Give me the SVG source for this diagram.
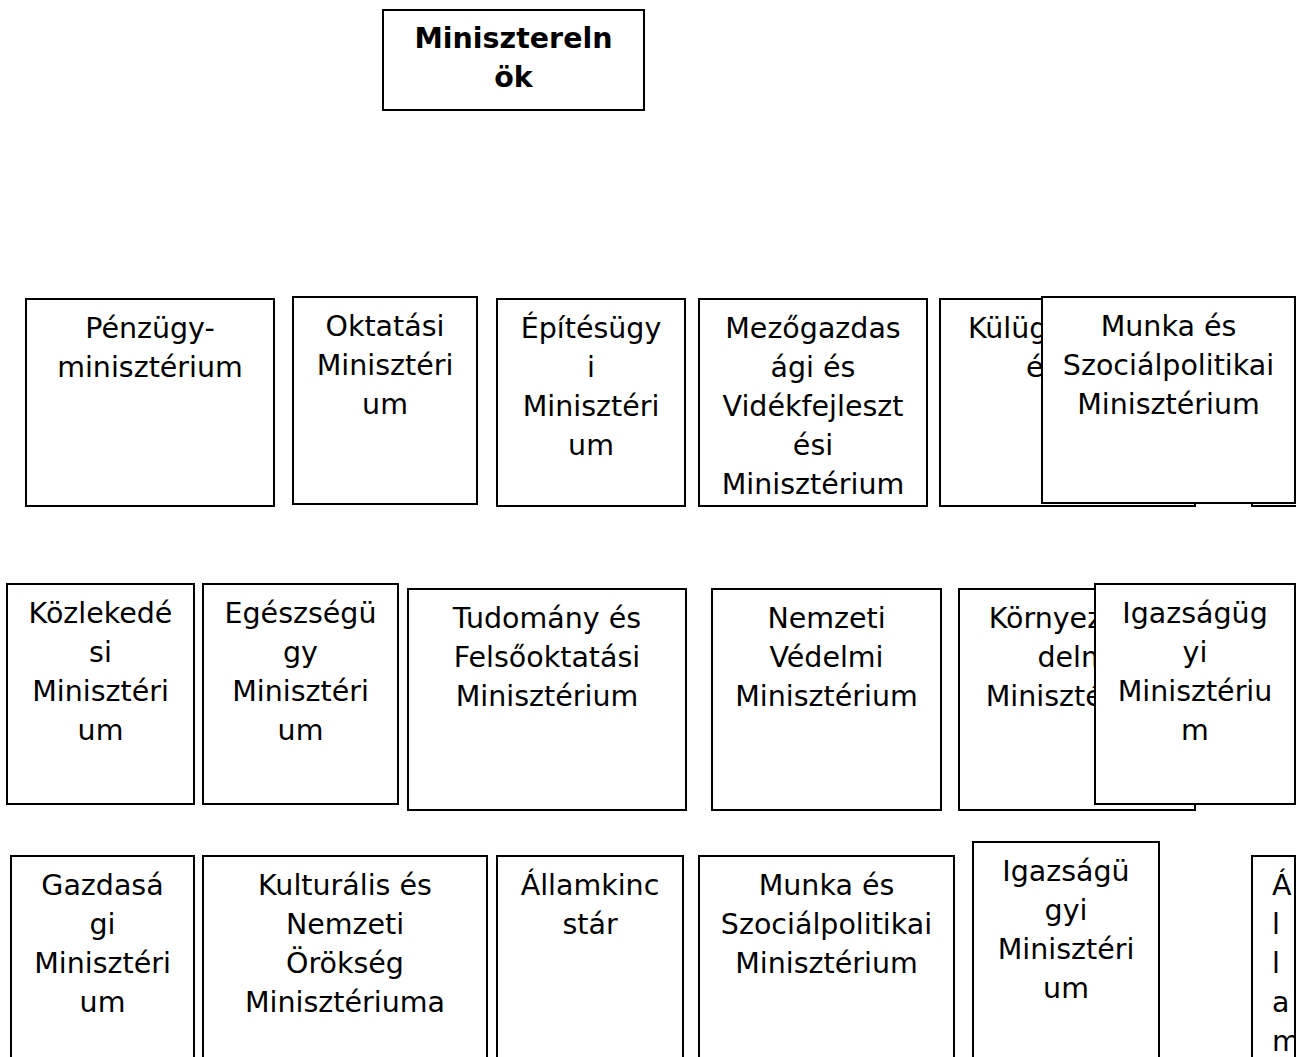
<svg xmlns="http://www.w3.org/2000/svg" width="1296" height="1057" viewBox="0 0 1296 1057">
<style>
  .box { fill: #ffffff; stroke: #000000; stroke-width: 2; }
  .lbl { font-family: "DejaVu Sans", "Liberation Sans", sans-serif; font-size: 28.5px; fill: #000000; text-anchor: middle; }
  .bold { font-weight: bold; }
  .start { text-anchor: start; }
</style>
<defs>
  <clipPath id="clipRight"><rect x="0" y="0" width="1294" height="1057"/></clipPath>
  <clipPath id="clipKulugy"><rect x="941" y="300" width="100" height="205"/></clipPath>
  <clipPath id="clipKornyezet"><rect x="960" y="590" width="134" height="219"/></clipPath>
</defs>
<rect x="0" y="0" width="1296" height="1057" fill="#ffffff"/>
<g id="connectors"></g>

<g id="n-miniszterelnok">
  <rect class="box" x="383" y="10" width="261" height="100"/>
  <text class="lbl bold"><tspan x="513.5" y="48">Minisztereln</tspan><tspan x="513.5" y="87">ök</tspan></text>
</g>

<!-- Row 1 -->
<g id="n-penzugy">
  <rect class="box" x="26" y="299" width="248" height="207"/>
  <text class="lbl"><tspan x="150" y="338">Pénzügy-</tspan><tspan x="150" y="377">minisztérium</tspan></text>
</g>
<g id="n-oktatasi">
  <rect class="box" x="293" y="297" width="184" height="207"/>
  <text class="lbl"><tspan x="385" y="336">Oktatási</tspan><tspan x="385" y="375">Minisztéri</tspan><tspan x="385" y="414">um</tspan></text>
</g>
<g id="n-epitesugyi">
  <rect class="box" x="497" y="299" width="188" height="207"/>
  <text class="lbl"><tspan x="591" y="338">Építésügy</tspan><tspan x="591" y="377">i</tspan><tspan x="591" y="416">Minisztéri</tspan><tspan x="591" y="455">um</tspan></text>
</g>
<g id="n-mezogazdasagi">
  <rect class="box" x="699" y="299" width="228" height="207"/>
  <text class="lbl"><tspan x="813" y="338">Mezőgazdas</tspan><tspan x="813" y="377">ági és</tspan><tspan x="813" y="416">Vidékfejleszt</tspan><tspan x="813" y="455">ési</tspan><tspan x="813" y="494">Minisztérium</tspan></text>
</g>
<g id="n-kulugy">
  <rect class="box" x="940" y="299" width="255" height="207"/>
  <text class="lbl" clip-path="url(#clipKulugy)"><tspan x="1067.5" y="338">Külügyminiszt</tspan><tspan x="1067.5" y="377">érium</tspan></text>
</g>
<g id="n-rejtett">
  <rect class="box" x="1252" y="299" width="60" height="207"/>
</g>
<g id="n-munka-1">
  <rect class="box" x="1042" y="297" width="253" height="206"/>
  <text class="lbl"><tspan x="1168.5" y="336">Munka és</tspan><tspan x="1168.5" y="375">Szociálpolitikai</tspan><tspan x="1168.5" y="414">Minisztérium</tspan></text>
</g>

<!-- Row 2 -->
<g id="n-kozlekedesi">
  <rect class="box" x="7" y="584" width="187" height="220"/>
  <text class="lbl"><tspan x="100.5" y="623">Közlekedé</tspan><tspan x="100.5" y="662">si</tspan><tspan x="100.5" y="701">Minisztéri</tspan><tspan x="100.5" y="740">um</tspan></text>
</g>
<g id="n-egeszsegugy">
  <rect class="box" x="203" y="584" width="195" height="220"/>
  <text class="lbl"><tspan x="300.5" y="623">Egészségü</tspan><tspan x="300.5" y="662">gy</tspan><tspan x="300.5" y="701">Minisztéri</tspan><tspan x="300.5" y="740">um</tspan></text>
</g>
<g id="n-tudomany">
  <rect class="box" x="408" y="589" width="278" height="221"/>
  <text class="lbl"><tspan x="547" y="628">Tudomány és</tspan><tspan x="547" y="667">Felsőoktatási</tspan><tspan x="547" y="706">Minisztérium</tspan></text>
</g>
<g id="n-nemzeti-vedelmi">
  <rect class="box" x="712" y="589" width="229" height="221"/>
  <text class="lbl"><tspan x="826.5" y="628">Nemzeti</tspan><tspan x="826.5" y="667">Védelmi</tspan><tspan x="826.5" y="706">Minisztérium</tspan></text>
</g>
<g id="n-kornyezetvedelmi">
  <rect class="box" x="959" y="589" width="236" height="221"/>
  <text class="lbl" clip-path="url(#clipKornyezet)"><tspan x="1077" y="628">Környezetvé</tspan><tspan x="1077" y="667">delmi</tspan><tspan x="1077" y="706">Minisztérium</tspan></text>
</g>
<g id="n-igazsagugyi-2">
  <rect class="box" x="1095" y="584" width="200" height="220"/>
  <text class="lbl"><tspan x="1195" y="623">Igazságüg</tspan><tspan x="1195" y="662">yi</tspan><tspan x="1195" y="701">Minisztériu</tspan><tspan x="1195" y="740">m</tspan></text>
</g>

<!-- Row 3 -->
<g id="n-gazdasagi">
  <rect class="box" x="11" y="856" width="183" height="230"/>
  <text class="lbl"><tspan x="102.5" y="895">Gazdasá</tspan><tspan x="102.5" y="934">gi</tspan><tspan x="102.5" y="973">Minisztéri</tspan><tspan x="102.5" y="1012">um</tspan></text>
</g>
<g id="n-kulturalis">
  <rect class="box" x="203" y="856" width="284" height="230"/>
  <text class="lbl"><tspan x="345" y="895">Kulturális és</tspan><tspan x="345" y="934">Nemzeti</tspan><tspan x="345" y="973">Örökség</tspan><tspan x="345" y="1012">Minisztériuma</tspan></text>
</g>
<g id="n-allamkincstar">
  <rect class="box" x="497" y="856" width="186" height="230"/>
  <text class="lbl"><tspan x="590" y="895">Államkinc</tspan><tspan x="590" y="934">stár</tspan></text>
</g>
<g id="n-munka-3">
  <rect class="box" x="699" y="856" width="255" height="230"/>
  <text class="lbl"><tspan x="826.5" y="895">Munka és</tspan><tspan x="826.5" y="934">Szociálpolitikai</tspan><tspan x="826.5" y="973">Minisztérium</tspan></text>
</g>
<g id="n-igazsagugyi-3">
  <rect class="box" x="973" y="842" width="186" height="240"/>
  <text class="lbl"><tspan x="1066" y="881">Igazságü</tspan><tspan x="1066" y="920">gyi</tspan><tspan x="1066" y="959">Minisztéri</tspan><tspan x="1066" y="998">um</tspan></text>
</g>
<g id="n-allam">
  <rect class="box" x="1252" y="856" width="43" height="230"/>
  <text class="lbl start" clip-path="url(#clipRight)"><tspan x="1272" y="895">Á</tspan><tspan x="1272" y="934">l</tspan><tspan x="1272" y="973">l</tspan><tspan x="1272" y="1012">a</tspan><tspan x="1272" y="1051">m</tspan></text>
</g>
</svg>
